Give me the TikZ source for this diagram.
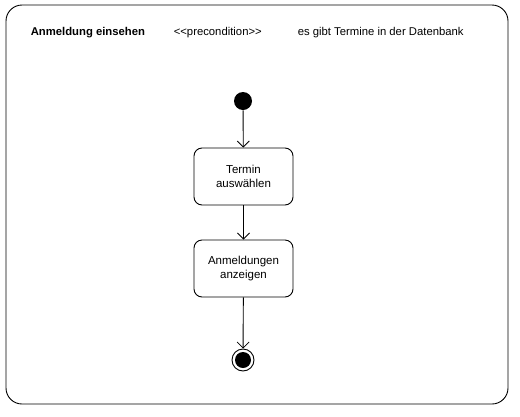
\documentclass[tikz,border=0pt]{standalone}
\usepackage{fontspec}
\setmainfont{Liberation Sans}
\usetikzlibrary{positioning,arrows.meta}

\begin{document}
\begin{tikzpicture}[x=1pt,y=-1pt,line width=0.9pt,
	action/.style={draw,rounded corners=8pt,minimum width=99pt,minimum height=57pt,align=center,font=\fontsize{11.5}{14}\selectfont},
	flow/.style={-{Straight Barb[length=6pt,width=12pt,line width=0.8pt]}}]
	\useasboundingbox (0,0) rectangle (520,416);
	\draw[rounded corners=16pt] (6,5) rectangle (508,404);	%frame
	%HEADER
	\node[anchor=west,font=\fontsize{11.3}{13}\selectfont\bfseries] (title) at (27,33) {Anmeldung einsehen};
	\node[anchor=west,font=\fontsize{11.3}{13}\selectfont] (pre) at (170,33) {{<}{<}precondition{>}{>}};
	\node[anchor=west,font=\fontsize{11.3}{13}\selectfont] (cond) at (294,33) {es gibt Termine in der Datenbank};
	%FLOW
	\node[circle,fill,inner sep=0pt,minimum size=18pt] (start) at (243,101) {};
	\node[action] (choose) at (243.5,176.5) {Termin\\auswählen};
	\node[action] (show) at (243.5,268.5) {Anmeldungen\\anzeigen};
	\node[circle,draw,inner sep=0pt,minimum size=22pt] (end) at (243,360) {};
	\node[circle,fill,inner sep=0pt,minimum size=16pt] at (end) {};
	\draw[flow] (start) -- (choose);
	\draw[flow] (choose) -- (show);
	\draw[flow] (show) -- (end);
\end{tikzpicture}
\end{document}
